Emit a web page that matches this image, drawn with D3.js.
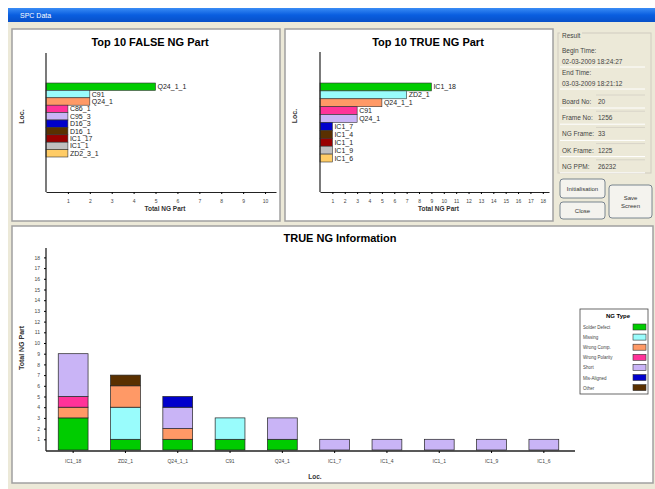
<!DOCTYPE html>
<html>
<head>
<meta charset="utf-8">
<script src="https://cdn.jsdelivr.net/npm/d3@7"></script>
<style>
  body { margin: 0; background: #fff; }
  svg { display: block; font-family: "Liberation Sans", Arial, sans-serif; }
</style>
</head>
<body>
<svg id="win" width="655" height="489"></svg>
<script>
// ---- data ----
var falseParts = ['Q24_1_1', 'C91', 'Q24_1', 'C86_1', 'C95_3', 'D16_3', 'D16_1', 'IC1_17', 'IC1_1', 'ZD2_3_1'];
var falseCounts = [5, 2, 2, 1, 1, 1, 1, 1, 1, 1];

var trueParts = ['IC1_18', 'ZD2_1', 'Q24_1_1', 'C91', 'Q24_1', 'IC1_7', 'IC1_4', 'IC1_1', 'IC1_9', 'IC1_6'];
var trueCounts = [9, 7, 5, 3, 3, 1, 1, 1, 1, 1];

var ngTypes = ['Solder Defect', 'Missing', 'Wrong Comp.', 'Wrong Polarity', 'Short', 'Mis-Aligned', 'Other'];
var solderDefect = [3, 1, 1, 1, 1, 0, 0, 0, 0, 0];
var missing      = [0, 3, 0, 2, 0, 0, 0, 0, 0, 0];
var wrongComp    = [1, 2, 1, 0, 0, 0, 0, 0, 0, 0];
var wrongPol     = [1, 0, 0, 0, 0, 0, 0, 0, 0, 0];
var shortNG      = [4, 0, 2, 0, 2, 1, 1, 1, 1, 1];
var misAligned   = [0, 0, 1, 0, 0, 0, 0, 0, 0, 0];
var otherNG      = [0, 1, 0, 0, 0, 0, 0, 0, 0, 0];

var resultLabels = ['Board No:', 'Frame No:', 'NG Frame:', 'OK Frame:', 'NG PPM:'];
var resultValues = ['20', '1256', '33', '1225', '26232'];
var beginTime = '02-03-2009 18:24:27';
var endTime = '03-03-2009 18:21:12';

// palettes
var rankColors = ['#00cc00', '#99fcfc', '#ff9966', '#ff3399', '#c9b4f6', '#0000cc', '#5a3000', '#990000', '#c0c0c0', '#ffcc66'];
var typeColors = ['#00cc00', '#99fcfc', '#ff9966', '#ff3399', '#c9b4f6', '#0000cc', '#5a3000'];

var svg = d3.select('#win');

// window chrome
svg.append('rect').attr('x', 8).attr('y', 8).attr('width', 647).attr('height', 481).attr('fill', '#ece9d8');
var grad = svg.append('defs').append('linearGradient').attr('id', 'tb').attr('x1', 0).attr('x2', 0).attr('y1', 0).attr('y2', 1);
grad.append('stop').attr('offset', '0%').attr('stop-color', '#3a8cf5');
grad.append('stop').attr('offset', '50%').attr('stop-color', '#0a5ee0');
grad.append('stop').attr('offset', '100%').attr('stop-color', '#0850c8');
svg.append('rect').attr('x', 8).attr('y', 8).attr('width', 647).attr('height', 14).attr('fill', 'url(#tb)');
svg.append('text').attr('x', 20).attr('y', 18).attr('fill', '#fff').style('font-size', '7px').text('SPC Data');

function panel(x, y, w, h) {
  svg.append('rect').attr('x', x).attr('y', y).attr('width', w).attr('height', h)
    .attr('fill', '#fff').attr('stroke', '#a0a0a0').attr('stroke-width', 1.5);
}
panel(12, 29, 268, 192);
panel(285, 29, 268, 192);
panel(12, 226, 641, 257);

// ---- top horizontal bar charts ----
function hbar(cats, vals, o) {
  var g = svg.append('g');
  var x = d3.scaleLinear().domain([0, o.xmax]).range([o.x0, o.x1]);
  var y = d3.scaleBand().domain(cats).range([o.yb0, o.yb1]);

  g.selectAll('rect.bar').data(cats).join('rect')
    .attr('class', 'bar')
    .attr('x', x(0))
    .attr('y', function(d) { return y(d); })
    .attr('width', function(d, i) { return x(vals[i]) - x(0); })
    .attr('height', y.bandwidth())
    .attr('fill', function(d, i) { return rankColors[i]; })
    .attr('stroke', '#333').attr('stroke-width', 0.6);

  g.selectAll('text.lab').data(cats).join('text')
    .attr('class', 'lab')
    .attr('x', function(d, i) { return x(vals[i]) + 2; })
    .attr('y', function(d) { return y(d) + y.bandwidth() / 2; })
    .attr('dy', '0.35em')
    .style('font-size', '7px').attr('fill', '#222')
    .text(function(d) { return d; });

  var ax = g.append('g').attr('transform', 'translate(0,' + o.yAxis + ')')
    .call(d3.axisBottom(x).tickValues(d3.range(1, Math.floor(o.xmax) + 1)).tickSizeInner(2).tickSizeOuter(0).tickPadding(5));
  ax.select('.domain').attr('stroke', '#222').attr('stroke-width', 1.2);
  ax.selectAll('text').style('font-size', '5px').attr('fill', '#444');

  g.append('line').attr('x1', o.x0).attr('x2', o.x0).attr('y1', o.yTop).attr('y2', o.yAxis)
    .attr('stroke', '#222').attr('stroke-width', 1.2);

  g.append('text').attr('x', o.tx).attr('y', o.ty).attr('text-anchor', 'middle')
    .style('font-size', '11px').style('font-weight', 'bold').text(o.title);
  g.append('text').attr('x', (o.x0 + o.x1) / 2 + 4).attr('y', o.yAxis + 19).attr('text-anchor', 'middle')
    .style('font-size', '6.5px').style('font-weight', 'bold').attr('fill', '#333').text('Total NG Part');
  g.append('text').attr('transform', 'translate(' + o.lx + ',' + ((o.yTop + o.yAxis) / 2 - 6) + ') rotate(-90)')
    .attr('text-anchor', 'middle').style('font-size', '7px').style('font-weight', 'bold').attr('fill', '#333').text('Loc.');
}

hbar(falseParts, falseCounts, {
  title: 'Top 10 FALSE NG Part', tx: 150, ty: 46,
  xmax: 10.5, x0: 46, x1: 276, yb0: 83, yb1: 157, yTop: 53, yAxis: 192, lx: 24
});
hbar(trueParts, trueCounts, {
  title: 'Top 10 TRUE NG Part', tx: 428, ty: 46,
  xmax: 18.5, x0: 320, x1: 549, yb0: 83, yb1: 162, yTop: 52, yAxis: 192, lx: 297
});

// ---- result panel ----
var rp = svg.append('g').style('font-size', '6.5px').attr('fill', '#444');
rp.append('rect').attr('x', 558).attr('y', 33).attr('width', 93).attr('height', 140)
  .attr('fill', 'none').attr('stroke', '#d0ccc0');
rp.append('rect').attr('x', 560).attr('y', 31).attr('width', 22).attr('height', 8).attr('fill', '#ece9d8');
rp.append('text').attr('x', 562).attr('y', 38).text('Result');
rp.append('text').attr('x', 562).attr('y', 53).text('Begin Time:');
rp.append('text').attr('x', 562).attr('y', 64).text(beginTime);
rp.append('line').attr('x1', 560).attr('x2', 645).attr('y1', 67).attr('y2', 67).attr('stroke', '#fff');
rp.append('text').attr('x', 562).attr('y', 75).text('End Time:');
rp.append('text').attr('x', 562).attr('y', 86).text(endTime);
rp.append('line').attr('x1', 560).attr('x2', 645).attr('y1', 89).attr('y2', 89).attr('stroke', '#fff');
resultLabels.forEach(function(l, i) {
  var yy = 104 + i * 16.2;
  rp.append('text').attr('x', 562).attr('y', yy).text(l);
  rp.append('text').attr('x', 598).attr('y', yy).text(resultValues[i]);
  rp.append('line').attr('x1', 596).attr('x2', 645).attr('y1', yy - 9).attr('y2', yy - 9).attr('stroke', '#d8d4c8');
  rp.append('line').attr('x1', 560).attr('x2', 645).attr('y1', yy + 4).attr('y2', yy + 4).attr('stroke', '#fff');
});

function button(x, y, w, h, lines) {
  svg.append('rect').attr('x', x).attr('y', y).attr('width', w).attr('height', h).attr('rx', 3)
    .attr('fill', '#f4f3ee').attr('stroke', '#5c6a7a').attr('stroke-width', 0.8);
  lines.forEach(function(t, i) {
    svg.append('text').attr('x', x + w / 2).attr('y', y + h / 2 + 2.5 + (i - (lines.length - 1) / 2) * 8)
      .attr('text-anchor', 'middle').style('font-size', '6px').attr('fill', '#333').text(t);
  });
}
button(560, 179, 45, 19, ['Initialisation']);
button(560, 202, 45, 17, ['Close']);
button(609, 185, 43, 33, ['Save', 'Screen']);

// ---- bottom stacked bar chart ----
var series = [solderDefect, missing, wrongComp, wrongPol, shortNG, misAligned, otherNG];
var rows = trueParts.map(function(p, i) {
  var r = { loc: p };
  ngTypes.forEach(function(t, k) { r[t] = series[k][i]; });
  return r;
});
var stacked = d3.stack().keys(ngTypes)(rows);

var bx = d3.scaleBand().domain(trueParts).range([47, 570]).paddingInner(0.43).paddingOuter(0.215);
var by = d3.scaleLinear().domain([0, 18]).range([450, 257.4]);

var bg = svg.append('g');
bg.selectAll('g.layer').data(stacked).join('g')
  .attr('class', 'layer')
  .attr('fill', function(d, i) { return typeColors[i]; })
  .selectAll('rect').data(function(d) { return d.filter(function(s) { return s[1] > s[0]; }); }).join('rect')
  .attr('x', function(d) { return bx(d.data.loc); })
  .attr('y', function(d) { return by(d[1]); })
  .attr('width', bx.bandwidth())
  .attr('height', function(d) { return by(d[0]) - by(d[1]); })
  .attr('stroke', '#222').attr('stroke-width', 0.7);

var xa = bg.append('g').attr('transform', 'translate(0,451)')
  .call(d3.axisBottom(bx).tickSizeInner(2).tickSizeOuter(0).tickPadding(6));
xa.select('.domain').attr('d', 'M46,0H575').attr('stroke', '#222').attr('stroke-width', 1.3);
xa.selectAll('text').style('font-size', '5px').attr('fill', '#444');

var ya = bg.append('g').attr('transform', 'translate(46,0)')
  .call(d3.axisLeft(by).tickValues(d3.range(1, 19)).tickSizeInner(2).tickSizeOuter(0).tickPadding(4));
ya.select('.domain').attr('d', 'M0,451V248').attr('stroke', '#222').attr('stroke-width', 1.3);
ya.selectAll('text').style('font-size', '5px').attr('fill', '#444');

bg.append('text').attr('x', 340).attr('y', 242).attr('text-anchor', 'middle')
  .style('font-size', '11px').style('font-weight', 'bold').text('TRUE NG Information');
bg.append('text').attr('x', 315).attr('y', 479).attr('text-anchor', 'middle')
  .style('font-size', '6.5px').style('font-weight', 'bold').attr('fill', '#333').text('Loc.');
bg.append('text').attr('transform', 'translate(24,348) rotate(-90)').attr('text-anchor', 'middle')
  .style('font-size', '7px').style('font-weight', 'bold').attr('fill', '#333').text('Total NG Part');

// legend
var lg = svg.append('g');
lg.append('rect').attr('x', 580).attr('y', 309).attr('width', 68).attr('height', 85)
  .attr('fill', '#fff').attr('stroke', '#444').attr('stroke-width', 0.8);
lg.append('text').attr('x', 618).attr('y', 318).attr('text-anchor', 'middle')
  .style('font-size', '6px').style('font-weight', 'bold').text('NG Type');
var li = lg.selectAll('g.item').data(ngTypes).join('g').attr('class', 'item')
  .attr('transform', function(d, i) { return 'translate(0,' + (327 + i * 10.1) + ')'; });
li.append('text').attr('x', 583).attr('y', 2).style('font-size', '4.5px').attr('fill', '#444').text(function(d) { return d; });
li.append('rect').attr('x', 633).attr('y', -3).attr('width', 13).attr('height', 6)
  .attr('fill', function(d, i) { return typeColors[i]; }).attr('stroke', '#333').attr('stroke-width', 0.6);
</script>
</body>
</html>
